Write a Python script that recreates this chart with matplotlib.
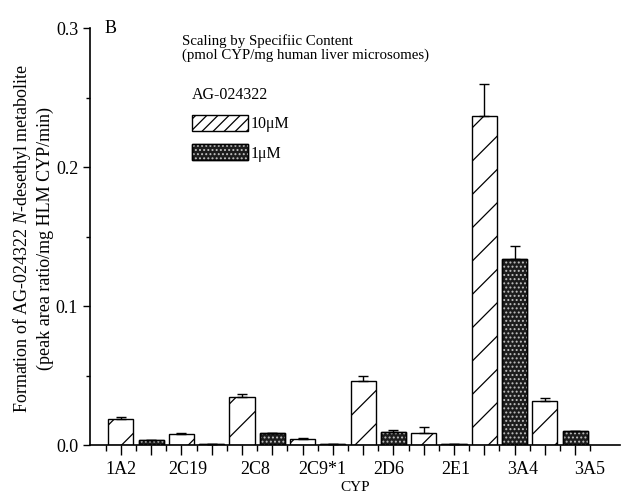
import matplotlib
matplotlib.use("Agg")
import matplotlib.pyplot as plt
import matplotlib.patches as mpatches
import matplotlib.transforms as mtransforms
from matplotlib.legend_handler import HandlerTuple
import numpy as np

plt.rcParams['font.family'] = ['Liberation Serif', 'DejaVu Serif']
plt.rcParams['mathtext.fontset'] = 'custom'
plt.rcParams['mathtext.it'] = 'Liberation Serif:italic'
plt.rcParams['mathtext.rm'] = 'Liberation Serif'
plt.rcParams['hatch.linewidth'] = 0.9

# CYP isoforms and N-desethyl metabolite formation
cyps = ['1A2', '2C19', '2C8', '2C9*1', '2D6', '2E1', '3A4', '3A5']
high = [0.019, 0.008, 0.0345, 0.0045, 0.046, 0.009, 0.237, 0.032]      # 10 uM
high_err = [0.001, 0.0008, 0.0025, 0.0004, 0.004, 0.004, 0.023, 0.0015]
low = [0.0035, 0.0006, 0.0085, 0.0006, 0.0094, 0.0006, 0.134, 0.010]   # 1 uM
low_err = [0.0003, 0.0, 0.0005, 0.0, 0.0015, 0.0, 0.009, 0.0004]

DARK = '#1c1c1c'
DOTS = '#c0c0c0'

fig = plt.figure(figsize=(6.23, 4.97), dpi=100)
ax = fig.add_axes([0.1445, 0.1046, 0.851, 0.839])

n = len(cyps)
x_high = np.arange(n) * 2
x_low = x_high + 1
w = 0.83

ax.bar(x_high, high, w, facecolor='white', edgecolor='black',
       hatch='/', linewidth=1.0, zorder=2)
ax.bar(x_low, low, w, facecolor=DARK, edgecolor='black',
       linewidth=1.0, zorder=2)
ax.bar(x_low, low, w, facecolor='none', edgecolor=DOTS,
       hatch='....', linewidth=0, zorder=3)
ax.bar(x_low, low, w, facecolor='none', edgecolor='black',
       linewidth=1.0, zorder=4)

ax.errorbar(x_high, high, yerr=[np.zeros(n), high_err], fmt='none',
            ecolor='black', elinewidth=1.0, capsize=3.5, capthick=1.0, zorder=5)
ax.errorbar(x_low, low, yerr=[np.zeros(n), low_err], fmt='none',
            ecolor='black', elinewidth=1.0, capsize=3.5, capthick=1.0, zorder=5)

ax.set_xlim(-1.02, 16.49)
ax.set_ylim(0, 0.3)

for s in ['top', 'right']:
    ax.spines[s].set_visible(False)
ax.spines['left'].set_linewidth(1.2)
ax.spines['bottom'].set_linewidth(1.2)

ax.set_yticks([0.0, 0.1, 0.2, 0.3])
ax.set_yticklabels(['0.0', '0.1', '0.2', '0.3'], fontsize=13)
ax.set_yticks([0.05, 0.15, 0.25], minor=True)
ax.tick_params(axis='y', which='major', length=5, width=1, direction='out')
ax.tick_params(axis='y', which='minor', length=3, width=1, direction='out')

# x ticks: long at bar centres, short at slot edges; labels placed separately
ax.set_xticks(np.arange(0, 16))
ax.set_xticklabels([])
ax.set_xticks(np.arange(-0.5, 16.5, 1.0), minor=True)
ax.tick_params(axis='x', which='major', length=7, width=1, direction='out')
ax.tick_params(axis='x', which='minor', length=4, width=1, direction='out')

trans = mtransforms.blended_transform_factory(ax.transData, ax.transAxes)
for i, name in enumerate(cyps):
    ax.text(i * 2.213, -0.058, name, transform=trans, ha='center', va='center',
            fontsize=13)
ax.text(0.5, -0.103, 'CYP', transform=ax.transAxes, ha='center', va='center',
        fontsize=11)

fig.text(0.035, 0.52, 'Formation of AG-024322 $\\it{N}$-desethyl metabolite',
         rotation=90, ha='center', va='center', fontsize=13)
fig.text(0.072, 0.52, '(peak area ratio/mg HLM CYP/min)',
         rotation=90, ha='center', va='center', fontsize=13)

ax.text(0.028, 1.0, 'B', transform=ax.transAxes, ha='left', va='center',
        fontsize=13)
ax.text(0.174, 0.985, 'Scaling by Specifiic Content\n(pmol CYP/mg human liver microsomes)',
        transform=ax.transAxes, ha='left', va='top', fontsize=10.7,
        linespacing=1.05)

h_high = mpatches.Patch(facecolor='white', edgecolor='black', hatch='///')
h_low = (mpatches.Patch(facecolor=DARK, edgecolor='black'),
         mpatches.Patch(facecolor='none', edgecolor=DOTS, hatch='....', linewidth=0),
         mpatches.Patch(facecolor='none', edgecolor='black'))
leg = ax.legend([h_high, h_low], ['10\u03bcM', '1\u03bcM'], title='AG-024322',
                handler_map={tuple: HandlerTuple(ndivide=1, pad=0)},
                loc='upper left', bbox_to_anchor=(0.18, 0.875), frameon=False,
                fontsize=11.5, title_fontsize=11.5, handlelength=3.5,
                handleheight=1.2, handletextpad=0.2, labelspacing=0.75,
                borderaxespad=0)
leg._legend_box.align = 'left'

fig.savefig('out.png', dpi=100)
